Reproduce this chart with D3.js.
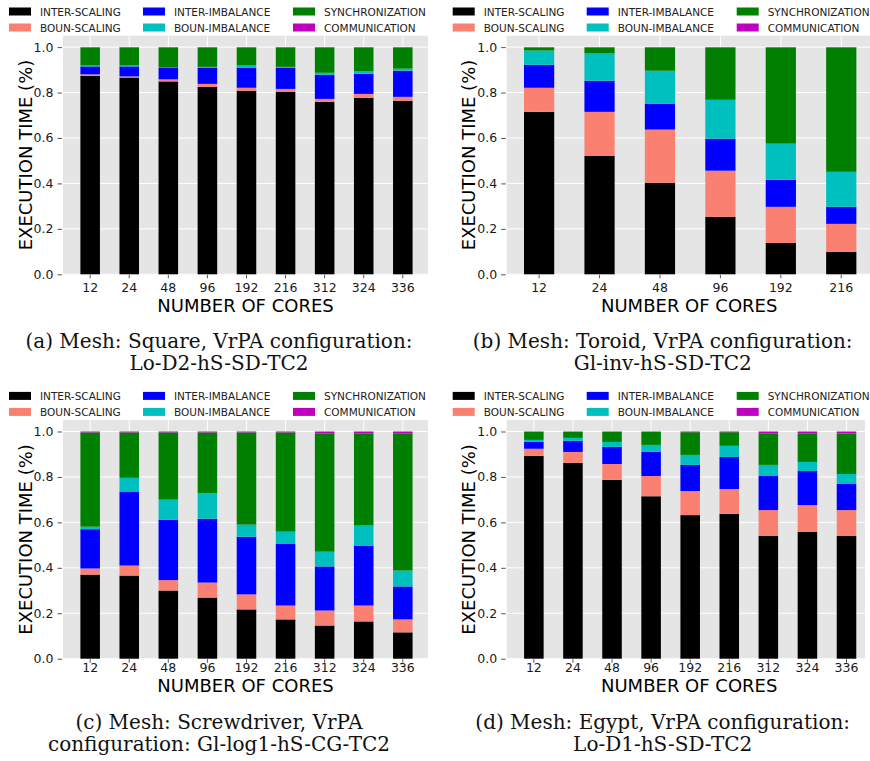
<!DOCTYPE html>
<html>
<head>
<meta charset="utf-8">
<script src="https://cdn.jsdelivr.net/npm/d3@7"></script>
<style>
  body { margin: 0; background: #fff; }
  svg { display: block; }
</style>
</head>
<body>
<svg id="chart" width="870" height="761"></svg>
<script>
// series, bottom to top
let seriesNames = ["INTER-SCALING", "BOUN-SCALING", "INTER-IMBALANCE",
                   "BOUN-IMBALANCE", "SYNCHRONIZATION", "COMMUNICATION"];
let seriesColors = ["#000000", "#fa8072", "#0000ff", "#00bfbf", "#008000", "#bf00bf"];

let cores9 = ["12", "24", "48", "96", "192", "216", "312", "324", "336"];
let cores6 = ["12", "24", "48", "96", "192", "216"];

// one row per series (same order as seriesNames), one value per core count
let squareVals = [
  [0.874, 0.866, 0.849, 0.825, 0.808, 0.803, 0.759, 0.777, 0.764],
  [0.006, 0.005, 0.009, 0.013, 0.013, 0.013, 0.013, 0.017, 0.017],
  [0.035, 0.044, 0.052, 0.072, 0.089, 0.094, 0.106, 0.089, 0.115],
  [0.004, 0.004, 0.001, 0.003, 0.009, 0.003, 0.009, 0.010, 0.009],
  [0.079, 0.079, 0.087, 0.085, 0.079, 0.085, 0.111, 0.105, 0.093],
  [0.002, 0.002, 0.002, 0.002, 0.002, 0.002, 0.002, 0.002, 0.002]
];
let toroidVals = [
  [0.715, 0.522, 0.403, 0.253, 0.138, 0.099],
  [0.106, 0.193, 0.234, 0.203, 0.159, 0.123],
  [0.101, 0.137, 0.113, 0.141, 0.119, 0.075],
  [0.063, 0.120, 0.146, 0.171, 0.159, 0.154],
  [0.013, 0.026, 0.102, 0.230, 0.423, 0.547],
  [0.002, 0.002, 0.002, 0.002, 0.002, 0.002]
];
let screwVals = [
  [0.370, 0.366, 0.300, 0.269, 0.217, 0.173, 0.146, 0.164, 0.116],
  [0.027, 0.044, 0.046, 0.066, 0.066, 0.061, 0.066, 0.070, 0.057],
  [0.173, 0.326, 0.266, 0.281, 0.254, 0.273, 0.194, 0.264, 0.145],
  [0.011, 0.060, 0.088, 0.113, 0.053, 0.052, 0.065, 0.088, 0.070],
  [0.415, 0.200, 0.296, 0.267, 0.406, 0.437, 0.521, 0.406, 0.604],
  [0.004, 0.004, 0.004, 0.004, 0.004, 0.004, 0.008, 0.008, 0.008]
];
let egyptVals = [
  [0.893, 0.862, 0.787, 0.715, 0.632, 0.637, 0.540, 0.558, 0.540],
  [0.031, 0.048, 0.070, 0.089, 0.106, 0.110, 0.114, 0.118, 0.114],
  [0.030, 0.049, 0.075, 0.106, 0.115, 0.141, 0.150, 0.150, 0.115],
  [0.009, 0.013, 0.022, 0.031, 0.044, 0.049, 0.049, 0.040, 0.044],
  [0.035, 0.026, 0.044, 0.057, 0.100, 0.060, 0.139, 0.126, 0.178],
  [0.002, 0.002, 0.002, 0.002, 0.003, 0.003, 0.008, 0.008, 0.009]
];

let yTicks = [0, 0.2, 0.4, 0.6, 0.8, 1.0];

// oy: shift of the plot area, ly: shift of the texts below it
let panels = [
  {cores: cores9, vals: squareVals, ox: 0, oy: 0, ly: 0, pad: 0.42, bgRight: 428,
   caption: ["(a) Mesh: Square, VrPA configuration:", "Lo-D2-hS-SD-TC2"]},
  {cores: cores6, vals: toroidVals, ox: 443.7, oy: 0, ly: 0, pad: 0.27, bgRight: 872,
   caption: ["(b) Mesh: Toroid, VrPA configuration:", "Gl-inv-hS-SD-TC2"]},
  {cores: cores9, vals: screwVals, ox: 0, oy: 384.4, ly: 380.5, pad: 0.42, bgRight: 428,
   caption: ["(c) Mesh: Screwdriver, VrPA", "configuration: Gl-log1-hS-CG-TC2"]},
  {cores: cores9, vals: egyptVals, ox: 443.7, oy: 384.4, ly: 380.5, pad: 0.42, bgRight: 865,
   caption: ["(d) Mesh: Egypt, VrPA configuration:", "Lo-D1-hS-SD-TC2"]}
];

let svg = d3.select("#chart");
let sansFont = "'DejaVu Sans', sans-serif";
let serifFont = "'DejaVu Serif', serif";

panels.forEach(p => drawPanel(p));

function drawPanel(p) {
  let left = 63 + p.ox, right = 428 + p.ox;
  let y0 = 274.3 + p.oy;
  let g = svg.append("g");

  let x = d3.scaleBand()
    .domain(p.cores)
    .range([left, right])
    .paddingInner(0.5)
    .paddingOuter(p.pad)
    .align(0.53);
  let y = d3.scaleLinear()
    .domain([0, 1.05])
    .range([y0, y0 - 1.05 * 227.2]);

  // table for the stack
  let rows = p.cores.map((c, i) => {
    let r = {core: c};
    seriesNames.forEach((s, k) => r[s] = p.vals[k][i]);
    return r;
  });
  let stacked = d3.stack().keys(seriesNames)(rows);

  // background
  g.append("rect")
    .attr("x", left)
    .attr("y", y(1.05))
    .attr("width", Math.min(p.bgRight, 870) - left)
    .attr("height", y(0) - y(1.05))
    .attr("fill", "#e5e5e5");

  // grid
  g.selectAll(".hgrid").data(yTicks).enter().append("line")
    .attr("x1", left).attr("x2", p.bgRight)
    .attr("y1", d => y(d)).attr("y2", d => y(d))
    .attr("stroke", "#fff").attr("stroke-width", 1);
  g.selectAll(".vgrid").data(p.cores).enter().append("line")
    .attr("x1", d => x(d) + x.bandwidth() / 2)
    .attr("x2", d => x(d) + x.bandwidth() / 2)
    .attr("y1", y(1.05)).attr("y2", y(0))
    .attr("stroke", "#fff").attr("stroke-width", 1);

  // bars
  g.selectAll(".layer").data(stacked).enter().append("g")
    .attr("fill", (d, i) => seriesColors[i])
    .selectAll("rect").data(d => d).enter().append("rect")
      .attr("x", d => x(d.data.core))
      .attr("width", x.bandwidth())
      .attr("y", d => y(d[1]))
      .attr("height", d => y(d[0]) - y(d[1]));

  // axes
  let yAxis = g.append("g")
    .attr("transform", `translate(${left - 1},0)`)
    .call(d3.axisLeft(y).tickValues(yTicks).tickFormat(d3.format(".1f"))
      .tickSize(4.5).tickPadding(4));
  let xAxis = g.append("g")
    .attr("transform", `translate(0,${y0 + 0.5})`)
    .call(d3.axisBottom(x).tickSize(3.5).tickPadding(4));
  [yAxis, xAxis].forEach(a => {
    a.select(".domain").remove();
    a.selectAll(".tick line").attr("stroke", "#555");
    a.selectAll(".tick text")
      .attr("fill", "#1a1a1a")
      .style("font-family", sansFont)
      .style("font-size", "12.5px");
  });
  // x tick labels sit on a fixed baseline under each panel
  xAxis.selectAll(".tick text")
    .attr("dy", null)
    .attr("y", 291.7 + p.ly - (y0 + 0.5));

  // axis labels
  g.append("text")
    .attr("x", (left + right) / 2)
    .attr("y", 311.5 + p.ly)
    .attr("text-anchor", "middle")
    .style("font-family", sansFont)
    .style("font-size", "18px")
    .text("NUMBER OF CORES");
  g.append("text")
    .attr("transform", `translate(${31.5 + p.ox},${(y(0) + y(1.05)) / 2}) rotate(-90)`)
    .attr("text-anchor", "middle")
    .style("font-family", sansFont)
    .style("font-size", "18px")
    .text("EXECUTION TIME (%)");

  // legend, 3 columns x 2 rows
  let colX = [9, 143, 293];
  let leg = g.selectAll(".leg").data(seriesNames).enter().append("g")
    .attr("transform", (d, i) => {
      let col = Math.floor(i / 2), row = i % 2;
      return `translate(${colX[col] + p.ox},${11.5 + row * 16 + p.oy})`;
    });
  leg.append("rect")
    .attr("x", 0).attr("y", -4)
    .attr("width", 22).attr("height", 8)
    .attr("fill", (d, i) => seriesColors[i]);
  leg.append("text")
    .attr("x", 31).attr("y", 4)
    .attr("fill", "#222")
    .style("font-family", sansFont)
    .style("font-size", "10.5px")
    .text(d => d);

  // caption
  g.selectAll(".cap").data(p.caption).enter().append("text")
    .attr("x", 219 + p.ox)
    .attr("y", (d, i) => 348 + i * 22 + p.ly)
    .attr("text-anchor", "middle")
    .attr("fill", "#111")
    .style("font-family", serifFont)
    .style("font-size", "20px")
    .text(d => d);
}
</script>
</body>
</html>
